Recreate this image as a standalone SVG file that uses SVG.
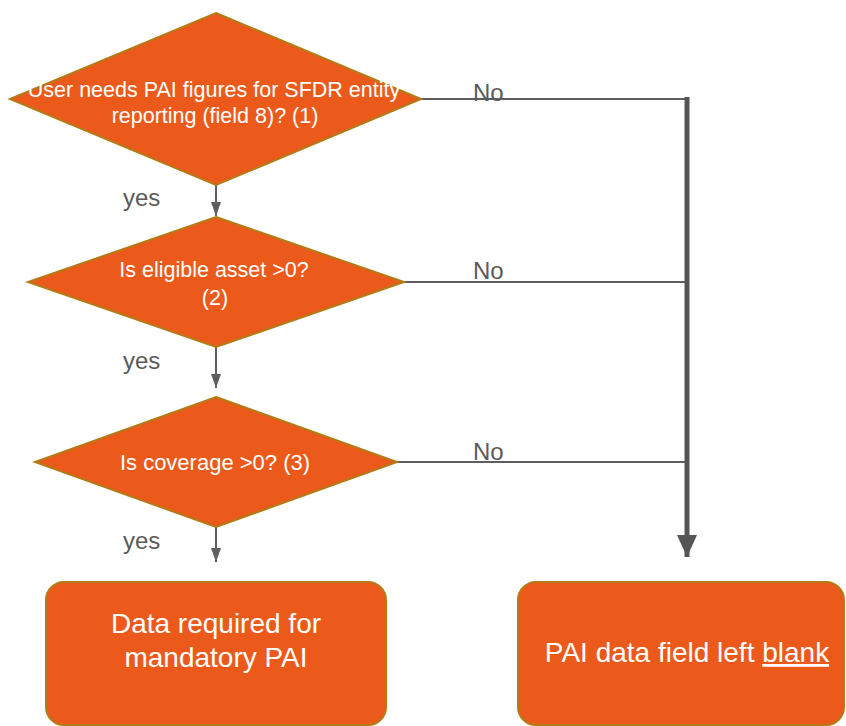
<svg xmlns="http://www.w3.org/2000/svg" width="846" height="726" viewBox="0 0 846 726">
  <style>
    .shape { fill: #EB5A1B; stroke: #B47A16; stroke-width: 2; }
    .wt { fill: #FFFFFF; font-family: "Liberation Sans", Arial, sans-serif; text-anchor: middle; }
    .lbl { fill: #5A5A5A; font-family: "Liberation Sans", Arial, sans-serif; font-size: 24px; }
    .thin { stroke: #5E5E5E; stroke-width: 2; fill: none; }
    .thick { stroke: #555555; stroke-width: 5; fill: none; }
  </style>
  <defs>
    <marker id="arr" markerUnits="userSpaceOnUse" viewBox="0 0 14 10" refX="14" refY="5" markerWidth="14" markerHeight="10" orient="auto">
      <path d="M0,0 L14,5 L0,10 z" fill="#5E5E5E"/>
    </marker>
    <marker id="bigarr" markerUnits="userSpaceOnUse" viewBox="0 0 22 20" refX="22" refY="10" markerWidth="22" markerHeight="20" orient="auto">
      <path d="M0,0 L22,10 L0,20 z" fill="#555555"/>
    </marker>
  </defs>

  <g id="connectors">
    <line class="thin" x1="216" y1="185" x2="216" y2="216" marker-end="url(#arr)"/>
    <line class="thin" x1="216" y1="347" x2="216" y2="388" marker-end="url(#arr)"/>
    <line class="thin" x1="216" y1="527" x2="216" y2="562" marker-end="url(#arr)"/>
    <line class="thin" x1="421" y1="99" x2="687" y2="99"/>
    <line class="thin" x1="404" y1="282" x2="687" y2="282"/>
    <line class="thin" x1="397" y1="462" x2="687" y2="462"/>
    <line class="thick" x1="687" y1="97" x2="687" y2="557" marker-end="url(#bigarr)"/>
    <text class="lbl" x="123" y="206">yes</text>
    <text class="lbl" x="123" y="369">yes</text>
    <text class="lbl" x="123" y="549">yes</text>
    <text class="lbl" x="473" y="101">No</text>
    <text class="lbl" x="473" y="279">No</text>
    <text class="lbl" x="473" y="460">No</text>
  </g>

  <g id="q1">
    <polygon class="shape" points="216,13 421,99 216,185 10,99"/>
    <text class="wt" font-size="21.5" x="214" y="97">User needs PAI figures for SFDR entity</text>
    <text class="wt" font-size="21.5" x="215" y="123">reporting (field 8)? (1)</text>
  </g>

  <g id="q2">
    <polygon class="shape" points="216,217 404,282 216,347 28,282"/>
    <text class="wt" font-size="21.5" x="214" y="277">Is eligible asset &gt;0?</text>
    <text class="wt" font-size="21.5" x="215" y="305">(2)</text>
  </g>

  <g id="q3">
    <polygon class="shape" points="216,397 397,462 216,527 35,462"/>
    <text class="wt" font-size="22" x="215" y="470">Is coverage &gt;0? (3)</text>
  </g>

  <g id="mandatory">
    <rect class="shape" x="46" y="582" width="340" height="143" rx="18"/>
    <text class="wt" font-size="28" x="216" y="633">Data required for</text>
    <text class="wt" font-size="28" x="216" y="667">mandatory PAI</text>
  </g>

  <g id="blank">
    <rect class="shape" x="518" y="582" width="326" height="143" rx="18"/>
    <text class="wt" font-size="28" x="687" y="662">PAI data field left <tspan text-decoration="underline">blank</tspan></text>
  </g>
</svg>
